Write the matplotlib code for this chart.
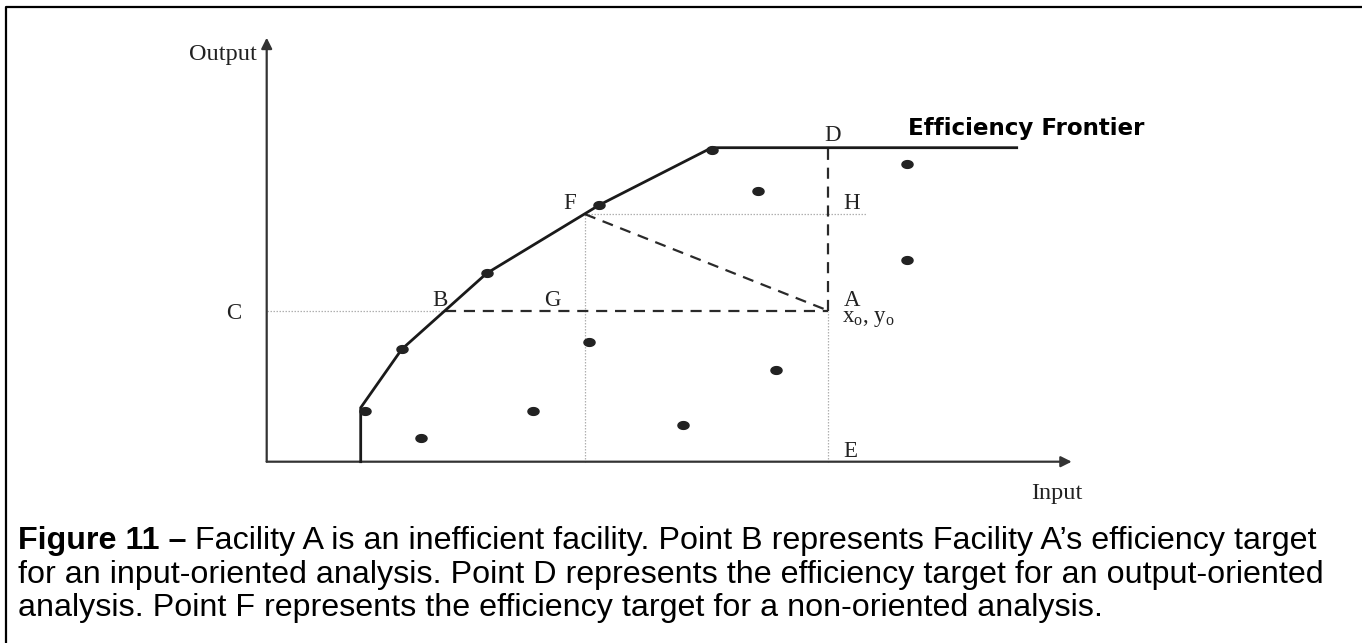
import matplotlib
matplotlib.use("Agg")
import matplotlib.pyplot as plt
import numpy as np
from matplotlib.path import Path
from matplotlib.lines import Line2D

# ---------------- data ----------------
# efficiency frontier vertices (input, output)
frontier_x = [9.4, 9.4, 13.5, 22.0, 33.26, 44.5, 75.0]
frontier_y = [0.0, 5.4, 11.24, 18.84, 25.67, 31.4, 31.4]
# facilities on the frontier (dots)
eff_x = [9.83, 13.5, 22.0, 33.26, 44.5]
eff_y = [5.07, 11.24, 18.84, 25.67, 31.17]
# inefficient facilities
ineff_x = [64.06, 49.16, 64.06, 32.23, 50.93, 26.66, 41.6, 15.4]
ineff_y = [29.77, 27.07, 20.17, 11.94, 9.17, 5.1, 3.7, 2.34]
# key points
A = (56.16, 15.1)
B = (17.83, 15.1)
F = (31.83, 24.75)
D = (56.16, 31.4)
E = (56.16, 0.0)
H_end_x = 60.0

caption_bold = "Figure 11 \u2013"
caption_rest = " Facility A is an inefficient facility. Point B represents Facility A\u2019s efficiency target"
caption_lines = [
    "for an input-oriented analysis. Point D represents the efficiency target for an output-oriented",
    "analysis. Point F represents the efficiency target for a non-oriented analysis.",
]

# ---------------- figure ----------------
W, Hpx = 1362, 643
fig = plt.figure(figsize=(W / 100, Hpx / 100), dpi=100)
ax = fig.add_axes([0, 0, 1, 1])
ox, oy, s = 266.7, 461.7, 10.0
ax.set_xlim(-ox / s, (W - ox) / s)
ax.set_ylim((oy - Hpx) / s, oy / s)
ax.axis("off")

serif = ["Liberation Serif", "DejaVu Serif"]
axis_col = "#333333"
dot_col = "#222222"

# axes arrows
ax.annotate("", xy=(0, 42.4), xytext=(0, 0),
            arrowprops=dict(arrowstyle="-|>", color=axis_col, lw=1.6,
                            mutation_scale=16, shrinkA=0, shrinkB=0))
ax.annotate("", xy=(80.5, 0), xytext=(0, 0),
            arrowprops=dict(arrowstyle="-|>", color=axis_col, lw=1.6,
                            mutation_scale=16, shrinkA=0, shrinkB=0))

# dotted guide lines
dot_kw = dict(color="#b0b0b0", lw=0.9, ls=(0, (1.2, 1.2)), zorder=1)
ax.plot([0, B[0]], [B[1], B[1]], **dot_kw)              # C - B
ax.plot([F[0], H_end_x], [F[1], F[1]], **dot_kw)        # F - H
ax.plot([F[0], F[0]], [0, F[1]], **dot_kw)              # F down
ax.plot([E[0], E[0]], [0, A[1]], **dot_kw)              # A - E

# dashed lines
dash_kw = dict(color="#2a2a2a", lw=1.6, ls=(0, (5, 3.5)), zorder=2)
ax.plot([B[0], A[0]], [B[1], A[1]], **dash_kw)
ax.plot([F[0], A[0]], [F[1], A[1]], **dash_kw)
ax.plot([A[0], D[0]], [A[1], D[1]], **dash_kw)

# frontier
ax.plot(frontier_x, frontier_y, color="#1a1a1a", lw=2.0, zorder=3,
        solid_joinstyle="miter")

# elliptical dots (stretched image)
t = np.linspace(0, 2 * np.pi, 40)
ell = Path(np.column_stack([np.cos(t), 0.7 * np.sin(t)]), closed=True)
ax.plot(eff_x, eff_y, ls="none", marker=ell, ms=8, color=dot_col, zorder=4)
ax.plot(ineff_x, ineff_y, ls="none", marker=ell, ms=8, color=dot_col, zorder=4)

# labels
lk = dict(family=serif, fontsize=16.5, color="#222222")
wk = dict(family=serif, fontsize=17.5, color="#222222")
ax.text(-0.97, 40.7, "Output", ha="right", va="center", **wk)
ax.text(79.0, -3.13, "Input", ha="center", va="center", **wk)
ax.text(-3.27, 14.8, "C", ha="center", va="center", **lk)
ax.text(17.33, 16.1, "B", ha="center", va="center", **lk)
ax.text(28.6, 16.17, "G", ha="center", va="center", **lk)
ax.text(30.26, 25.8, "F", ha="center", va="center", **lk)
ax.text(58.5, 25.8, "H", ha="center", va="center", **lk)
ax.text(56.63, 32.6, "D", ha="center", va="center", **lk)
ax.text(58.5, 16.17, "A", ha="center", va="center", **lk)
ax.text(57.5, 14.3, r"x$_\mathregular{o}$, y$_\mathregular{o}$", ha="left", va="center", **lk)
ax.text(58.33, 1.0, "E", ha="center", va="center", **lk)
ax.text(64.13, 33.37, "Efficiency Frontier", ha="left", va="center",
        family="DejaVu Sans", fontweight="bold", fontsize=16.6, color="black")

# border (top and left)
fig.add_artist(Line2D([5.7 / W, 5.7 / W, 1.0], [0.0, 1 - 7.3 / Hpx, 1 - 7.3 / Hpx],
                      transform=fig.transFigure, color="black", lw=1.6))

# caption
cap_font = ["Liberation Sans", "DejaVu Sans"]
cs = 23.2
x0 = 18 / W
base = [549.0, 582.5, 616.0]
tb = fig.text(x0, 1 - base[0] / Hpx, caption_bold, family=cap_font, fontsize=cs,
              fontweight="bold", va="baseline", ha="left")
r = fig.canvas.get_renderer()
bb = tb.get_window_extent(renderer=r)
fig.text(bb.x1 / W, 1 - base[0] / Hpx, caption_rest, family=cap_font, fontsize=cs,
         va="baseline", ha="left")
for i, line in enumerate(caption_lines):
    fig.text(x0, 1 - base[i + 1] / Hpx, line, family=cap_font, fontsize=cs,
             va="baseline", ha="left")

fig.savefig("out.png", dpi=100)
